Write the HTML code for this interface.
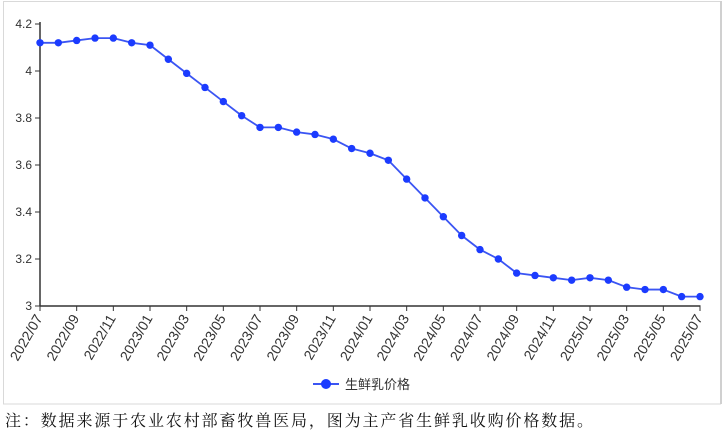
<!DOCTYPE html>
<html>
<head>
<meta charset="utf-8">
<style>
html,body{margin:0;padding:0;background:#fff;}
body{width:727px;height:434px;overflow:hidden;position:relative;}
svg{position:absolute;left:0;top:0;}
</style>
</head>
<body>
<svg width="727" height="434" viewBox="0 0 727 434" xmlns="http://www.w3.org/2000/svg">
  <!-- frame -->
  <rect x="3.5" y="1.5" width="717" height="402.5" fill="#fff" stroke="#d9d9d9" stroke-width="1"/>
  <line x1="721" y1="1" x2="721" y2="404" stroke="#d0d0d0" stroke-width="2"/>

  <!-- y axis labels & ticks -->
  <g font-family="Liberation Sans, Noto Sans CJK SC, sans-serif" font-size="12" fill="#333" text-anchor="end">
    <text x="32" y="28">4.2</text>
    <text x="32" y="75">4</text>
    <text x="32" y="122">3.8</text>
    <text x="32" y="169">3.6</text>
    <text x="32" y="216">3.4</text>
    <text x="32" y="263">3.2</text>
    <text x="32" y="310">3</text>
  </g>
  <g stroke="#333" stroke-width="1">
    <line x1="35" y1="24" x2="40" y2="24"/>
    <line x1="35" y1="71" x2="40" y2="71"/>
    <line x1="35" y1="118" x2="40" y2="118"/>
    <line x1="35" y1="165" x2="40" y2="165"/>
    <line x1="35" y1="212" x2="40" y2="212"/>
    <line x1="35" y1="259" x2="40" y2="259"/>
    <line x1="35" y1="306" x2="40" y2="306"/>
  </g>
  <!-- axes -->
  <line x1="40" y1="22" x2="40" y2="306.5" stroke="#333" stroke-width="1.5"/>
  <line x1="39.5" y1="306" x2="700.5" y2="306" stroke="#333" stroke-width="1.5"/>

  <!-- x ticks -->
  <g stroke="#333" stroke-width="1">
    <line x1="40" y1="306" x2="40" y2="311"/>
    <line x1="76.67" y1="306" x2="76.67" y2="311"/>
    <line x1="113.33" y1="306" x2="113.33" y2="311"/>
    <line x1="150" y1="306" x2="150" y2="311"/>
    <line x1="186.67" y1="306" x2="186.67" y2="311"/>
    <line x1="223.33" y1="306" x2="223.33" y2="311"/>
    <line x1="260" y1="306" x2="260" y2="311"/>
    <line x1="296.67" y1="306" x2="296.67" y2="311"/>
    <line x1="333.33" y1="306" x2="333.33" y2="311"/>
    <line x1="370" y1="306" x2="370" y2="311"/>
    <line x1="406.67" y1="306" x2="406.67" y2="311"/>
    <line x1="443.33" y1="306" x2="443.33" y2="311"/>
    <line x1="480" y1="306" x2="480" y2="311"/>
    <line x1="516.67" y1="306" x2="516.67" y2="311"/>
    <line x1="553.33" y1="306" x2="553.33" y2="311"/>
    <line x1="590" y1="306" x2="590" y2="311"/>
    <line x1="626.67" y1="306" x2="626.67" y2="311"/>
    <line x1="663.33" y1="306" x2="663.33" y2="311"/>
    <line x1="700" y1="306" x2="700" y2="311"/>
  </g>

  <!-- x labels -->
  <g font-family="Liberation Sans, Noto Sans CJK SC, sans-serif" font-size="14" fill="#333" text-anchor="end">
    <text transform="translate(43,318) rotate(-60)">2022/07</text>
    <text transform="translate(79.67,318) rotate(-60)">2022/09</text>
    <text transform="translate(116.33,318) rotate(-60)">2022/11</text>
    <text transform="translate(153,318) rotate(-60)">2023/01</text>
    <text transform="translate(189.67,318) rotate(-60)">2023/03</text>
    <text transform="translate(226.33,318) rotate(-60)">2023/05</text>
    <text transform="translate(263,318) rotate(-60)">2023/07</text>
    <text transform="translate(299.67,318) rotate(-60)">2023/09</text>
    <text transform="translate(336.33,318) rotate(-60)">2023/11</text>
    <text transform="translate(373,318) rotate(-60)">2024/01</text>
    <text transform="translate(409.67,318) rotate(-60)">2024/03</text>
    <text transform="translate(446.33,318) rotate(-60)">2024/05</text>
    <text transform="translate(483,318) rotate(-60)">2024/07</text>
    <text transform="translate(519.67,318) rotate(-60)">2024/09</text>
    <text transform="translate(556.33,318) rotate(-60)">2024/11</text>
    <text transform="translate(593,318) rotate(-60)">2025/01</text>
    <text transform="translate(629.67,318) rotate(-60)">2025/03</text>
    <text transform="translate(666.33,318) rotate(-60)">2025/05</text>
    <text transform="translate(703,318) rotate(-60)">2025/07</text>
  </g>

  <!-- series line -->
  <polyline fill="none" stroke="#3b55f3" stroke-width="1.8" stroke-linejoin="round"
    points="40,42.8 58.33,42.8 76.67,40.45 95,38.1 113.33,38.1 131.67,42.8 150,45.15 168.33,59.25 186.67,73.35 205,87.45 223.33,101.55 241.67,115.65 260,127.4 278.33,127.4 296.67,132.1 315,134.45 333.33,139.15 351.67,148.55 370,153.25 388.33,160.3 406.67,179.1 425,197.9 443.33,216.7 461.67,235.5 480,249.6 498.33,259 516.67,273.1 535,275.45 553.33,277.8 571.67,280.15 590,277.8 608.33,280.15 626.67,287.2 645,289.55 663.33,289.55 681.67,296.6 700,296.6"/>
  <!-- markers -->
  <g fill="#1b3bff">
    <circle cx="40" cy="42.8" r="3.7"/>
    <circle cx="58.33" cy="42.8" r="3.7"/>
    <circle cx="76.67" cy="40.45" r="3.7"/>
    <circle cx="95" cy="38.1" r="3.7"/>
    <circle cx="113.33" cy="38.1" r="3.7"/>
    <circle cx="131.67" cy="42.8" r="3.7"/>
    <circle cx="150" cy="45.15" r="3.7"/>
    <circle cx="168.33" cy="59.25" r="3.7"/>
    <circle cx="186.67" cy="73.35" r="3.7"/>
    <circle cx="205" cy="87.45" r="3.7"/>
    <circle cx="223.33" cy="101.55" r="3.7"/>
    <circle cx="241.67" cy="115.65" r="3.7"/>
    <circle cx="260" cy="127.4" r="3.7"/>
    <circle cx="278.33" cy="127.4" r="3.7"/>
    <circle cx="296.67" cy="132.1" r="3.7"/>
    <circle cx="315" cy="134.45" r="3.7"/>
    <circle cx="333.33" cy="139.15" r="3.7"/>
    <circle cx="351.67" cy="148.55" r="3.7"/>
    <circle cx="370" cy="153.25" r="3.7"/>
    <circle cx="388.33" cy="160.3" r="3.7"/>
    <circle cx="406.67" cy="179.1" r="3.7"/>
    <circle cx="425" cy="197.9" r="3.7"/>
    <circle cx="443.33" cy="216.7" r="3.7"/>
    <circle cx="461.67" cy="235.5" r="3.7"/>
    <circle cx="480" cy="249.6" r="3.7"/>
    <circle cx="498.33" cy="259" r="3.7"/>
    <circle cx="516.67" cy="273.1" r="3.7"/>
    <circle cx="535" cy="275.45" r="3.7"/>
    <circle cx="553.33" cy="277.8" r="3.7"/>
    <circle cx="571.67" cy="280.15" r="3.7"/>
    <circle cx="590" cy="277.8" r="3.7"/>
    <circle cx="608.33" cy="280.15" r="3.7"/>
    <circle cx="626.67" cy="287.2" r="3.7"/>
    <circle cx="645" cy="289.55" r="3.7"/>
    <circle cx="663.33" cy="289.55" r="3.7"/>
    <circle cx="681.67" cy="296.6" r="3.7"/>
    <circle cx="700" cy="296.6" r="3.7"/>
  </g>

  <!-- legend -->
  <line x1="313" y1="384" x2="339" y2="384" stroke="#3b55f3" stroke-width="2"/>
  <circle cx="326" cy="384" r="5" fill="#1b3bff"/>
  <text x="345" y="389" font-family="Liberation Sans, Noto Sans CJK SC, sans-serif" font-size="13" fill="#333">生鲜乳价格</text>

  <!-- footnote -->
  <text x="5" y="426" font-family="Noto Serif CJK SC, Liberation Serif, serif" font-size="16" fill="#111" textLength="588" lengthAdjust="spacing">注：数据来源于农业农村部畜牧兽医局，图为主产省生鲜乳收购价格数据。</text>
</svg>
</body>
</html>
